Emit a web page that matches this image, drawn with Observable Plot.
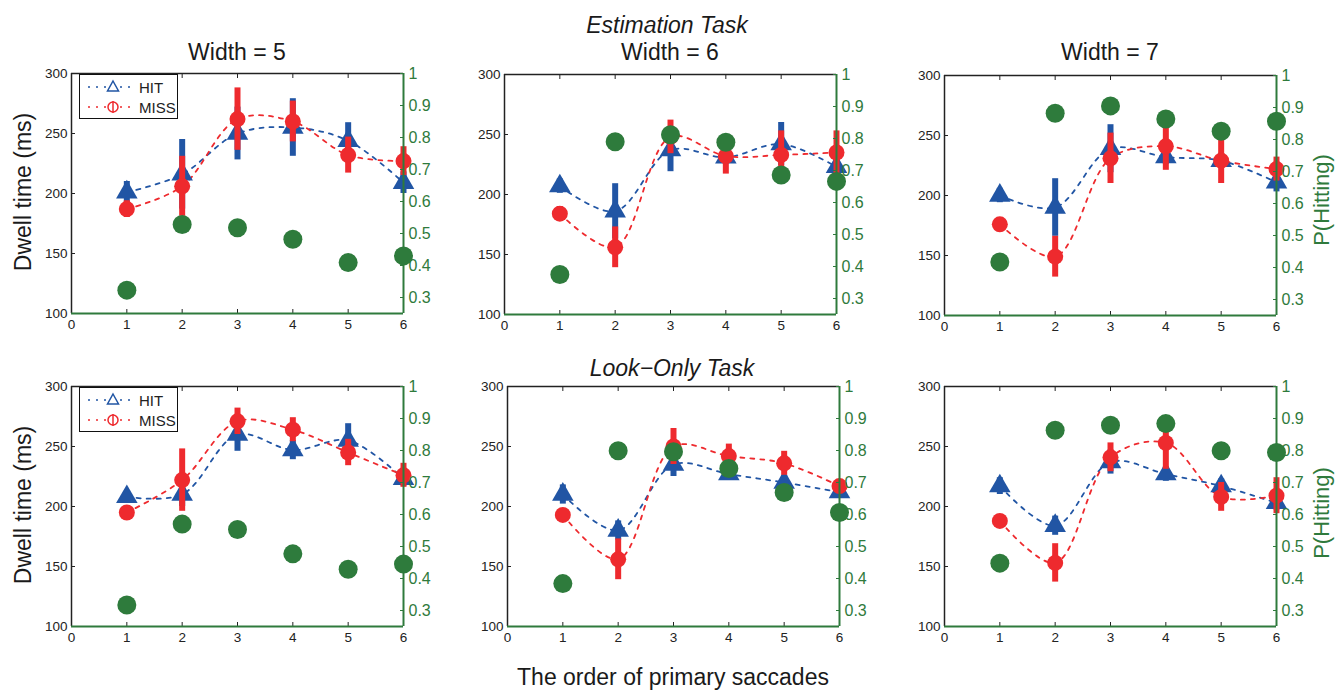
<!DOCTYPE html>
<html>
<head>
<meta charset="utf-8">
<script src="https://cdn.jsdelivr.net/npm/d3@7"></script>
<script src="https://cdn.jsdelivr.net/npm/@observablehq/plot@0.6"></script>
<style>
  body { margin: 0; background: #fff; font-family: "Liberation Sans", Arial, sans-serif; }
  #root { position: relative; width: 1343px; height: 694px; overflow: hidden; background: #fff; }
  .panel { position: absolute; }
  .panel > svg { position: absolute; left: 0; top: 0; }
  .legend { position: absolute; width: 99px; height: 45px; border: 1.5px solid #111; background: #fff; box-sizing: border-box; }
  .legend svg { position: absolute; left: 0; top: 0; }
  #annot { position: absolute; left: 0; top: 0; }
</style>
</head>
<body>
<div id="root"></div>
<script>
// ---------------- data ----------------
const orders = [1, 2, 3, 4, 5, 6];
const xTicks = [0, 1, 2, 3, 4, 5, 6];
const dwellTicks = [100, 150, 200, 250, 300];
const pTicks = [0.3, 0.4, 0.5, 0.6, 0.7, 0.8, 0.9, 1];

// Estimation task, Width = 5
const estW5Hit      = [201, 216, 250, 255, 244, 209];
const estW5HitErr   = [9, 29, 22, 24, 15, 9];
const estW5Miss     = [187, 206, 262, 260, 232, 227];
const estW5MissErr  = [7, 25, 26, 17, 15, 12];
const estW5PHit     = [0.323, 0.528, 0.518, 0.482, 0.409, 0.43];

// Estimation task, Width = 6
const estW6Hit      = [207, 186, 237, 231, 242, 223];
const estW6HitErr   = [6, 23, 18, 5, 18, 10];
const estW6Miss     = [184, 156, 248, 232, 233, 235];
const estW6MissErr  = [6, 17, 14, 15, 20, 18];
const estW6PHit     = [0.375, 0.79, 0.812, 0.788, 0.686, 0.666];

// Estimation task, Width = 7
const estW7Hit      = [200, 190, 239, 232, 229, 211];
const estW7HitErr   = [6, 24, 20, 6, 5, 8];
const estW7Miss     = [176, 149, 231, 241, 229, 222];
const estW7MissErr  = [4, 17, 21, 20, 19, 10];
const estW7PHit     = [0.417, 0.882, 0.905, 0.864, 0.826, 0.857];

// Look-only task, Width = 5
const lookW5Hit     = [208, 210, 260, 247, 255, 223];
const lookW5HitErr  = [5, 10, 14, 8, 14, 6];
const lookW5Miss    = [195, 222, 271, 264, 245, 226];
const lookW5MissErr = [4, 26, 11, 10, 11, 10];
const lookW5PHit    = [0.317, 0.57, 0.553, 0.477, 0.429, 0.445];

// Look-only task, Width = 6
const lookW6Hit     = [210, 180, 235, 227, 220, 212];
const lookW6HitErr  = [8, 8, 10, 5, 6, 5];
const lookW6Miss    = [193, 156, 250, 242, 236, 217];
const lookW6MissErr = [3, 17, 15, 10, 10, 5];
const lookW6PHit    = [0.384, 0.799, 0.796, 0.744, 0.669, 0.606];

// Look-only task, Width = 7
const lookW7Hit     = [217, 184, 237, 227, 217, 203];
const lookW7HitErr  = [7, 8, 10, 6, 6, 6];
const lookW7Miss    = [188, 153, 241, 253, 208, 209];
const lookW7MissErr = [4, 16, 12, 22, 12, 15];
const lookW7PHit    = [0.448, 0.863, 0.879, 0.884, 0.799, 0.794];

// ---------------- styling ----------------
const BLUE = "#2155a4";
const RED = "#ee2a2e";
const GREEN = "#2e7b3c";
const GREEN_AXIS = "#2f7a3c";
const FONT = "Liberation Sans, Arial, sans-serif";

const W = 332, H = 240, mL = 45, mR = 45, mT = 6, mB = 30;

const panels = [
  {hit: estW5Hit, hitErr: estW5HitErr, miss: estW5Miss, missErr: estW5MissErr, p: estW5PHit, left: 71, top: 73, legend: true},
  {hit: estW6Hit, hitErr: estW6HitErr, miss: estW6Miss, missErr: estW6MissErr, p: estW6PHit, left: 504, top: 74},
  {hit: estW7Hit, hitErr: estW7HitErr, miss: estW7Miss, missErr: estW7MissErr, p: estW7PHit, left: 944, top: 75},
  {hit: lookW5Hit, hitErr: lookW5HitErr, miss: lookW5Miss, missErr: lookW5MissErr, p: lookW5PHit, left: 71, top: 386, legend: true},
  {hit: lookW6Hit, hitErr: lookW6HitErr, miss: lookW6Miss, missErr: lookW6MissErr, p: lookW6PHit, left: 507, top: 386},
  {hit: lookW7Hit, hitErr: lookW7HitErr, miss: lookW7Miss, missErr: lookW7MissErr, p: lookW7PHit, left: 944, top: 386}
];

function dwellPlot(pn) {
  const hit = orders.map((o, i) => ({x: o, y: pn.hit[i], e: pn.hitErr[i]}));
  const miss = orders.map((o, i) => ({x: o, y: pn.miss[i], e: pn.missErr[i]}));
  return Plot.plot({
    width: W + mL + mR, height: H + mT + mB,
    marginLeft: mL, marginRight: mR, marginTop: mT, marginBottom: mB,
    style: {background: "transparent", fontFamily: FONT, color: "#222", overflow: "visible"},
    x: {domain: [0, 6], label: null},
    y: {domain: [100, 300], label: null},
    marks: [
      Plot.line(hit, {x: "x", y: "y", curve: "catmull-rom", stroke: BLUE, strokeWidth: 1.8, strokeDasharray: "4,6"}),
      Plot.line(miss, {x: "x", y: "y", curve: "catmull-rom", stroke: RED, strokeWidth: 1.8, strokeDasharray: "4,6"}),
      Plot.ruleX(hit, {x: "x", y1: d => d.y - d.e, y2: d => d.y + d.e, stroke: BLUE, strokeWidth: 6}),
      Plot.dot(hit, {x: "x", y: "y", symbol: "triangle", r: 8, fill: BLUE}),
      Plot.ruleX(miss, {x: "x", y1: d => d.y - d.e, y2: d => d.y + d.e, stroke: RED, strokeWidth: 6}),
      Plot.dot(miss, {x: "x", y: "y", r: 8, fill: RED}),
      Plot.ruleX([0], {stroke: "#222", strokeWidth: 1.5}),
      Plot.ruleY([300], {stroke: "#222", strokeWidth: 1.5}),
      Plot.axisY({ticks: dwellTicks, tickSize: -4, tickPadding: 8, fontSize: 13.5, label: null, tickFormat: d => String(d)}),
      Plot.axisX({ticks: xTicks, tickSize: -4, tickPadding: 10, fontSize: 13.5, label: null, tickFormat: d => String(d)}),
      Plot.axisX({anchor: "top", ticks: orders, tickSize: -4, tickFormat: () => "", label: null})
    ]
  });
}

function pPlot(pn) {
  const pts = orders.map((o, i) => ({x: o, y: pn.p[i]}));
  return Plot.plot({
    width: W + mL + mR, height: H + mT + mB,
    marginLeft: mL, marginRight: mR, marginTop: mT, marginBottom: mB,
    style: {background: "transparent", fontFamily: FONT, color: GREEN_AXIS, overflow: "visible"},
    x: {domain: [0, 6], axis: null, label: null},
    y: {domain: [0.25, 1], label: null},
    marks: [
      Plot.ruleY([0.25], {stroke: GREEN_AXIS, strokeWidth: 2}),
      Plot.ruleX([6], {stroke: GREEN_AXIS, strokeWidth: 2}),
      Plot.axisY({anchor: "right", ticks: pTicks, tickSize: -4, tickPadding: 9, fontSize: 16, label: null, tickFormat: d => String(d)}),
      Plot.dot(pts, {x: "x", y: "y", r: 9.5, fill: GREEN})
    ]
  });
}

const root = document.getElementById("root");
const NS = "http://www.w3.org/2000/svg";

for (const pn of panels) {
  const div = document.createElement("div");
  div.className = "panel";
  div.style.left = (pn.left - mL) + "px";
  div.style.top = (pn.top - mT) + "px";
  div.style.width = (W + mL + mR) + "px";
  div.style.height = (H + mT + mB) + "px";
  div.appendChild(dwellPlot(pn));
  div.appendChild(pPlot(pn));
  root.appendChild(div);

  if (pn.legend) {
    const lg = document.createElement("div");
    lg.className = "legend";
    lg.style.left = (pn.left + 8) + "px";
    lg.style.top = (pn.top + 1) + "px";
    lg.innerHTML = `
      <svg width="99" height="45" xmlns="${NS}">
        <line x1="8" x2="50" y1="12" y2="12" stroke="${BLUE}" stroke-width="1.6" stroke-dasharray="2,6"/>
        <path d="M33,6 L38.5,16 L27.5,16 Z" fill="white" stroke="${BLUE}" stroke-width="1.5"/>
        <text x="59" y="17.5" font-family="${FONT}" font-size="15" fill="#222">HIT</text>
        <line x1="8" x2="50" y1="32" y2="32" stroke="${RED}" stroke-width="1.6" stroke-dasharray="2,6"/>
        <circle cx="33" cy="32" r="5" fill="white" stroke="${RED}" stroke-width="1.5"/>
        <line x1="33" x2="33" y1="26" y2="38" stroke="${RED}" stroke-width="1.5"/>
        <text x="59" y="37.5" font-family="${FONT}" font-size="15" fill="#222">MISS</text>
      </svg>`;
    root.appendChild(lg);
  }
}

// ---------------- titles & labels ----------------
const annot = document.createElementNS(NS, "svg");
annot.setAttribute("id", "annot");
annot.setAttribute("width", 1343);
annot.setAttribute("height", 694);
annot.style.pointerEvents = "none";
function addText(str, x, y, opts = {}) {
  const t = document.createElementNS(NS, "text");
  t.textContent = str;
  t.setAttribute("x", x);
  t.setAttribute("y", y);
  t.setAttribute("text-anchor", "middle");
  t.setAttribute("font-family", FONT);
  t.setAttribute("font-size", opts.size || 23);
  t.setAttribute("fill", opts.fill || "#1a1a1a");
  if (opts.italic) t.setAttribute("font-style", "italic");
  if (opts.rotate) t.setAttribute("transform", `rotate(-90 ${x} ${y})`);
  annot.appendChild(t);
}
addText("Estimation Task", 667, 33, {italic: true});
addText("Width = 5", 237, 60);
addText("Width = 6", 670, 60);
addText("Width = 7", 1110, 60);
addText("Look\u2212Only Task", 672, 376, {italic: true});
addText("The order of primary saccades", 673, 685);
addText("Dwell time (ms)", 31, 192, {rotate: true});
addText("Dwell time (ms)", 31, 505, {rotate: true});
addText("P(Hitting)", 1329, 200, {rotate: true, fill: GREEN_AXIS, size: 22});
addText("P(Hitting)", 1329, 513, {rotate: true, fill: GREEN_AXIS, size: 22});
root.appendChild(annot);
</script>
</body>
</html>
